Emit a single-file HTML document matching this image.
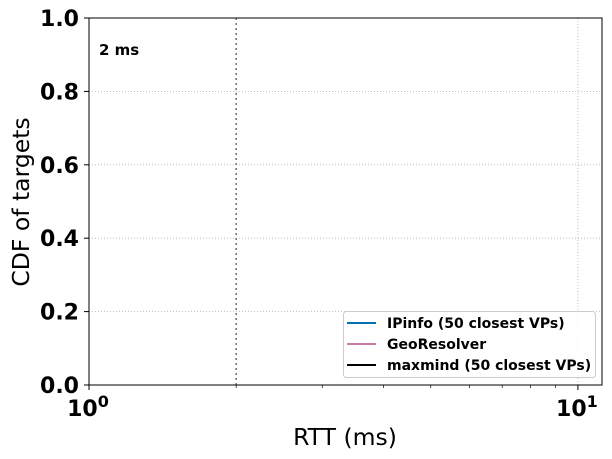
<!DOCTYPE html>
<html><head><meta charset="utf-8"><style>
body{margin:0;background:#fff}
svg{display:block}
text{font-family:"DejaVu Sans","Liberation Sans",sans-serif}
</style></head><body>
<svg id="chart" width="612" height="459" viewBox="0 0 612 459"></svg>
<script>
const xTicks=[1,10];
const xTickLabels=["10","10"];
const yTicks=[0,0.2,0.4,0.6,0.8,1.0];
const yTickLabels=["0.0","0.2","0.4","0.6","0.8","1.0"];
const thresholds=[2];
const thresholdLabels=["2 ms"];
const seriesNames=["IPinfo (50 closest VPs)","GeoResolver","maxmind (50 closest VPs)"];
const seriesColors=["#0072b2","#cc79a7","#000000"];
const X0=89,X1=602,Y0=385,Y1=18,xMin=1,xMax=11.2;
const sx=v=>X0+(Math.log10(v)-Math.log10(xMin))/(Math.log10(xMax)-Math.log10(xMin))*(X1-X0);
const sy=v=>Y0-(v-0)/(1-0)*(Y0-Y1);
const svg=document.getElementById('chart');
const NS='http://www.w3.org/2000/svg';
function mk(t,a,txt){const e=document.createElementNS(NS,t);for(const k in a)e.setAttribute(k,a[k]);if(txt!==undefined)e.textContent=txt;svg.appendChild(e);return e;}
yTicks.forEach((v,i)=>{if(v>0&&v<1){const g=mk('line',{x1:X0,x2:X1,y1:sy(v),y2:sy(v),stroke:'#b0b0b0','stroke-width':0.8,'stroke-dasharray':'1,2'});

}});
xTicks.forEach(v=>{if(v>xMin){const g=mk('line',{x1:sx(v),x2:sx(v),y1:Y1,y2:Y0,stroke:'#b0b0b0','stroke-width':0.8,'stroke-dasharray':'1,2'});

}});
thresholds.forEach((v,i)=>{const l=mk('line',{x1:sx(v),x2:sx(v),y1:Y1,y2:Y0,stroke:'#777','stroke-width':1.6,'stroke-dasharray':'2,3'});


const t=mk('text',{x:99,y:55,'font-size':15,'font-weight':'bold'},thresholdLabels[i]);

});
const fr=mk('rect',{x:X0,y:Y1,width:X1-X0,height:Y0-Y1,fill:'none',stroke:'#000','stroke-width':1});


yTicks.forEach((v,i)=>{mk('line',{x1:X0-5,x2:X0,y1:sy(v),y2:sy(v),stroke:'#000'});
const t=mk('text',{x:X0-10,y:sy(v)+8,'font-size':22,'font-weight':'bold','text-anchor':'end'},yTickLabels[i]);

});
xTicks.forEach((v,i)=>{mk('line',{x1:sx(v),x2:sx(v),y1:Y0,y2:Y0+5,stroke:'#000'});
const t=mk('text',{x:sx(v)-1,y:Y0+31,'font-size':22,'font-weight':'bold','text-anchor':'middle'},xTickLabels[i]);
const s=document.createElementNS(NS,'tspan');s.setAttribute('dy','-9');s.setAttribute('font-size','16');s.textContent=i===0?'0':'1';t.appendChild(s);

});
for(let d=1;d<=10;d*=10)for(let k=2;k<=9;k++){const v=d*k;if(v<xMax)mk('line',{x1:sx(v),x2:sx(v),y1:Y0,y2:Y0+3,stroke:'#000','stroke-width':0.7});}
const xl=mk('text',{x:345,y:445,'font-size':23.5,'text-anchor':'middle'},'RTT (ms)');


const yl=mk('text',{x:0,y:0,'font-size':23.5,'text-anchor':'middle',transform:'translate(29,202) rotate(-90)'},'CDF of targets');


const lb=mk('rect',{x:343.5,y:311.5,width:252,height:66,rx:3,fill:'#fff','fill-opacity':0.8,stroke:'#ccc'});


seriesNames.forEach((n,i)=>{const y=323+i*21;
mk('line',{x1:347,x2:376,y1:y,y2:y,stroke:seriesColors[i],'stroke-width':2});
const t=mk('text',{x:387,y:y+5,'font-size':14,'font-weight':'bold'},n);

});
</script>
</body></html>
